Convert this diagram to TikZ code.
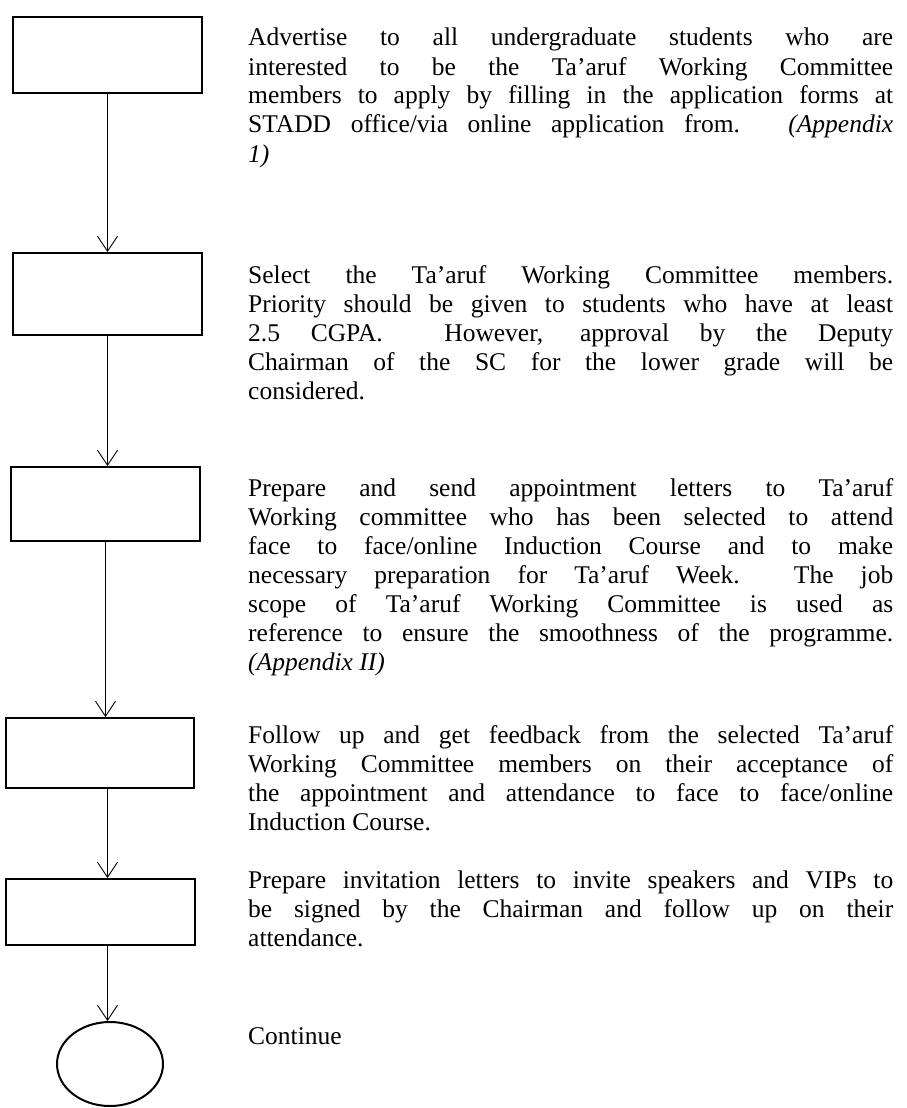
\documentclass[tikz,border=0pt]{standalone}
\usepackage{fontspec}
\setmainfont{Liberation Serif}
\usetikzlibrary{arrows.meta,shapes.geometric}
\tikzset{
  stepbox/.style={draw, line width=2pt, rectangle, inner sep=0pt, minimum width=189pt},
  endcircle/.style={draw, line width=2pt, ellipse, inner sep=0pt},
  flowarrow/.style={line width=0.9pt, -{Straight Barb[length=15pt,width=20pt,line width=0.9pt]}},
  desc/.style={anchor=base west, inner sep=0pt, align=left},
}
\newcommand{\desctext}[1]{\parbox[t]{645pt}{\fontsize{25.5pt}{29pt}\selectfont\hyphenpenalty=10000\exhyphenpenalty=10000 #1}}
\begin{document}
\begin{tikzpicture}[x=1pt,y=-1pt]
  \useasboundingbox (0,0) rectangle (906,1108);
  \fill[white] (0,0) rectangle (906,1108);

  % process boxes
  \node[stepbox, minimum height=76pt] (b1) at (107.5,55) {};
  \node[stepbox, minimum height=82pt] (b2) at (107.5,294) {};
  \node[stepbox, minimum height=74pt] (b3) at (105.5,504) {};
  \node[stepbox, minimum width=188pt, minimum height=70pt] (b4) at (100,753) {};
  \node[stepbox, minimum height=66pt] (b5) at (100.5,912) {};
  \node[endcircle, minimum width=106pt, minimum height=84pt] (end) at (110,1064) {};

  % connectors
  \draw[flowarrow] (b1.south -| b1.center) -- (b2.north -| b1.center);
  \draw[flowarrow] (b2.south -| b2.center) -- (b3.north -| b2.center);
  \draw[flowarrow] (b3.south -| b3.center) -- (b4.north -| b3.center);
  \draw[flowarrow] (b4.south -| b1.center) -- (b5.north -| b1.center);
  \draw[flowarrow] (b5.south -| b1.center) -- (end.north -| b1.center);

  % step descriptions
  \node[desc] (t1) at (248,46) {\desctext{Advertise to all undergraduate students who are\linebreak
    interested to be the Ta’aruf Working Committee\linebreak
    members to apply by filling in the application forms at\linebreak
    STADD office/via online application from. \textit{(Appendix}\linebreak
    \textit{1)}}};
  \node[desc] (t2) at (248,283) {\desctext{Select the Ta’aruf Working Committee members.\linebreak
    Priority should be given to students who have at least\linebreak
    2.5 CGPA.\ \ However, approval by the Deputy\linebreak
    Chairman of the SC for the lower grade will be\linebreak
    considered.}};
  \node[desc] (t3) at (248,496) {\desctext{Prepare and send appointment letters to Ta’aruf\linebreak
    Working committee who has been selected to attend\linebreak
    face to face/online Induction Course and to make\linebreak
    necessary preparation for Ta’aruf Week.\ \ The job\linebreak
    scope of Ta’aruf Working Committee is used as\linebreak
    reference to ensure the smoothness of the programme.\linebreak
    \textit{(Appendix II)}}};
  \node[desc] (t4) at (248,743) {\desctext{Follow up and get feedback from the selected Ta’aruf\linebreak
    Working Committee members on their acceptance of\linebreak
    the appointment and attendance to face to face/online\linebreak
    Induction Course.}};
  \node[desc] (t5) at (248,888) {\desctext{Prepare invitation letters to invite speakers and VIPs to\linebreak
    be signed by the Chairman and follow up on their\linebreak
    attendance.}};
  \node[desc] (t6) at (248,1044) {\desctext{Continue}};
\end{tikzpicture}
\end{document}
